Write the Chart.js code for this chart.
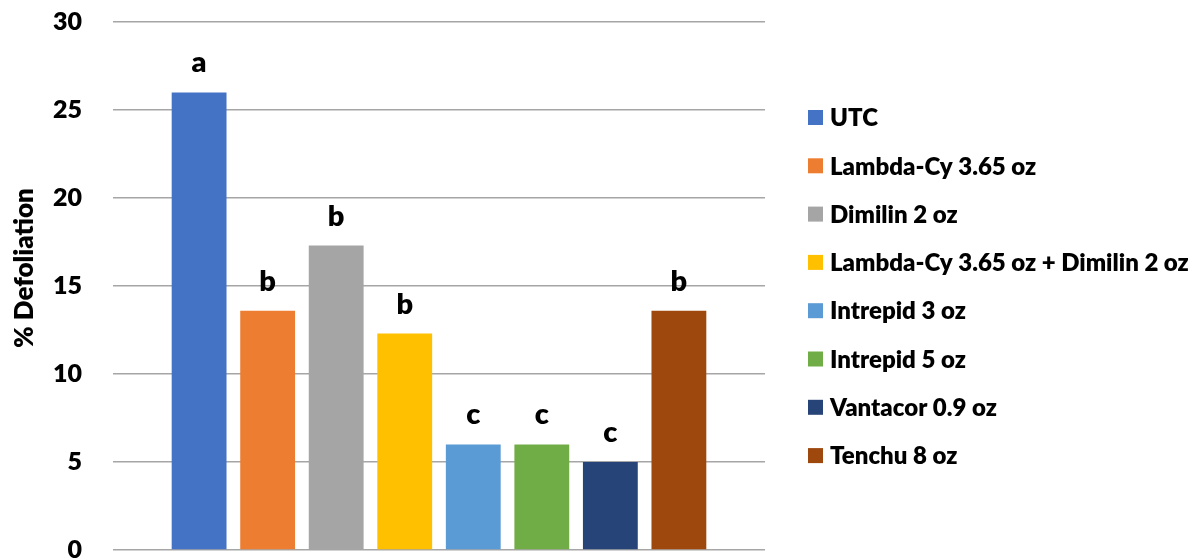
<!DOCTYPE html>
<html>
<head>
<meta charset="utf-8">
<script src="https://cdn.jsdelivr.net/npm/chart.js@4.4.1/dist/chart.umd.min.js"></script>
<style>
  html, body { margin: 0; padding: 0; background: #fff; }
  #wrap { width: 1198px; height: 558px; }
</style>
</head>
<body>
<div id="wrap"><canvas id="c" width="1198" height="558"></canvas></div>
<script>
// Treatments, mean defoliation and mean-separation letters
const treatments = [
  'UTC',
  'Lambda-Cy 3.65 oz',
  'Dimilin 2 oz',
  'Lambda-Cy 3.65 oz + Dimilin 2 oz',
  'Intrepid 3 oz',
  'Intrepid 5 oz',
  'Vantacor 0.9 oz',
  'Tenchu 8 oz'
];
const defoliation = [26.0, 13.6, 17.3, 12.3, 6.0, 6.0, 5.0, 13.6];
const letters = ['a', 'b', 'b', 'b', 'c', 'c', 'c', 'b'];
const colors = ['#4472C4', '#ED7D31', '#A5A5A5', '#FFC000', '#5B9BD5', '#70AD47', '#264478', '#9E480E'];
const yTicks = [0, 5, 10, 15, 20, 25, 30];

const FONT = 'Lato';
const WEIGHT = '800';

// Letters above each bar
const letterPlugin = {
  id: 'letters',
  afterDatasetsDraw(chart) {
    const ctx = chart.ctx;
    ctx.save();
    ctx.font = WEIGHT + ' 29px ' + FONT;
    ctx.fillStyle = '#000';
    ctx.textAlign = 'center';
    ctx.textBaseline = 'alphabetic';
    chart.data.datasets.forEach((ds, i) => {
      const bar = chart.getDatasetMeta(i).data[0];
      ctx.fillText(ds.letter, bar.x, bar.y - 20);
    });
    ctx.restore();
  }
};

// Legend column on the right
const sideLegend = {
  id: 'sideLegend',
  afterDraw(chart) {
    const ctx = chart.ctx;
    ctx.save();
    ctx.font = WEIGHT + ' 24px ' + FONT;
    ctx.textBaseline = 'middle';
    ctx.textAlign = 'left';
    const rowH = 48.3;
    const top = 117.5;
    chart.data.datasets.forEach((ds, i) => {
      const cy = top + i * rowH;
      ctx.fillStyle = ds.backgroundColor;
      ctx.fillRect(808, cy - 7.5, 15, 15);
      ctx.fillStyle = '#000';
      ctx.fillText(ds.label, 830, cy + 1);
    });
    ctx.restore();
  }
};

// Rotated y-axis title
const yTitle = {
  id: 'yTitle',
  afterDraw(chart) {
    const ctx = chart.ctx;
    ctx.save();
    ctx.translate(25, 268);
    ctx.rotate(-Math.PI / 2);
    ctx.font = WEIGHT + ' 26px ' + FONT;
    ctx.fillStyle = '#000';
    ctx.textAlign = 'center';
    ctx.textBaseline = 'middle';
    ctx.fillText('% Defoliation', 0, 0);
    ctx.restore();
  }
};

const datasets = treatments.map((name, i) => ({
  label: name,
  data: [defoliation[i]],
  letter: letters[i],
  backgroundColor: colors[i],
  borderWidth: 0,
  barPercentage: 0.8,
  categoryPercentage: 0.841
}));

new Chart(document.getElementById('c'), {
  type: 'bar',
  data: { labels: [''], datasets },
  options: {
    responsive: false,
    maintainAspectRatio: false,
    animation: false,
    devicePixelRatio: 1,
    layout: { autoPadding: false, padding: { top: 22, right: 433, bottom: 8, left: 0 } },
    plugins: {
      legend: { display: false },
      title: { display: false },
      tooltip: { enabled: false }
    },
    scales: {
      x: {
        display: false
      },
      y: {
        min: yTicks[0],
        max: yTicks[yTicks.length - 1],
        afterBuildTicks(scale) { scale.ticks = yTicks.map(v => ({ value: v })); },
        afterFit(scale) {
          scale.width = 113;
          scale.paddingTop = 0;
          scale.paddingBottom = 0;
        },
        grid: { color: '#A6A6A6', lineWidth: 1.5, drawTicks: false },
        border: { display: false },
        ticks: {
          padding: 31,
          color: '#000',
          font: { family: FONT, size: 25, weight: WEIGHT }
        }
      }
    }
  },
  plugins: [letterPlugin, sideLegend, yTitle]
});
</script>
</body>
</html>
